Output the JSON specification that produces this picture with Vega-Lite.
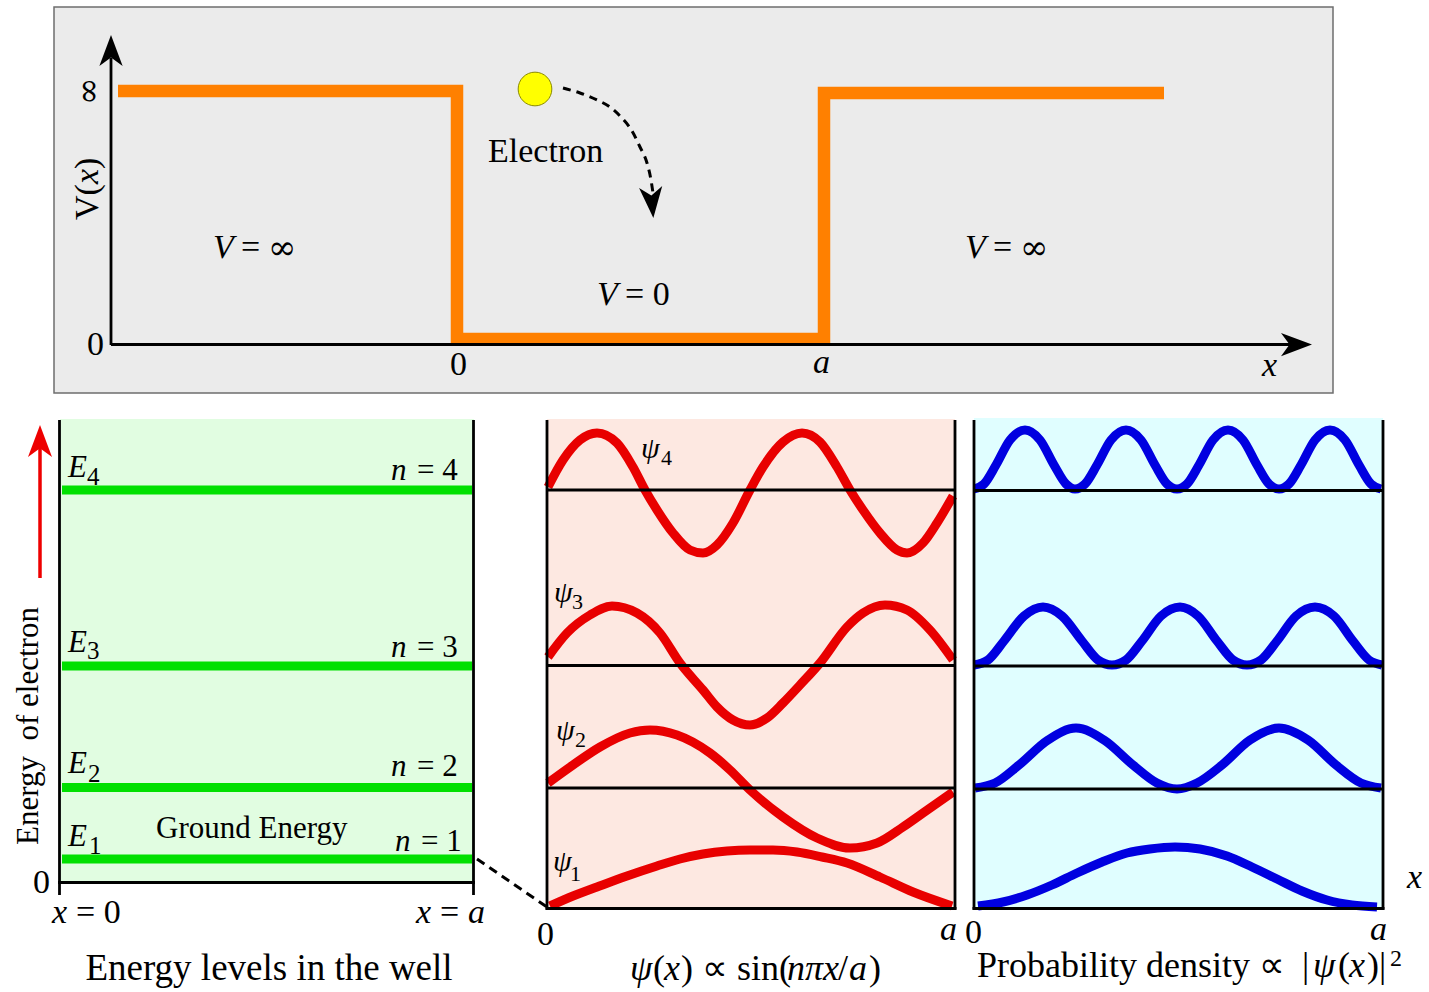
{
  "$schema": "https://vega.github.io/schema/vega-lite/v6.json",
  "width": 1429,
  "height": 992,
  "autosize": {"type": "fit", "contains": "padding"},
  "padding": 0,
  "background": "white",
  "config": {"view": {"stroke": null}},
  "datasets": {
    "panels": [
      {"x": 60, "y": 419, "x2": 474, "y2": 882, "p": "levels"},
      {"x": 547, "y": 419, "x2": 955, "y2": 908, "p": "psi"},
      {"x": 974, "y": 418, "x2": 1383, "y2": 908, "p": "prob"}
    ],
    "frame": [{"x": 54, "y": 7, "x2": 1333, "y2": 393}],
    "well": [
      {"i": 0, "x": 118, "y": 91},
      {"i": 1, "x": 457, "y": 91},
      {"i": 2, "x": 457, "y": 339},
      {"i": 3, "x": 824, "y": 339},
      {"i": 4, "x": 824, "y": 93},
      {"i": 5, "x": 1164, "y": 93}
    ],
    "levels": [
      {"x": 62, "x2": 472, "y": 490, "y2": 490},
      {"x": 62, "x2": 472, "y": 666, "y2": 666},
      {"x": 62, "x2": 472, "y": 787.5, "y2": 787.5},
      {"x": 62, "x2": 472, "y": 859, "y2": 859}
    ],
    "electron": [{"x": 535, "y": 89}],
    "path": [
      {"i": 0, "x": 563, "y": 88},
      {"i": 1, "x": 580, "y": 93},
      {"i": 2, "x": 597, "y": 100},
      {"i": 3, "x": 610, "y": 107},
      {"i": 4, "x": 620, "y": 116},
      {"i": 5, "x": 632, "y": 131},
      {"i": 6, "x": 640, "y": 147},
      {"i": 7, "x": 647, "y": 163},
      {"i": 8, "x": 651, "y": 180},
      {"i": 9, "x": 653, "y": 193}
    ],
    "arrowsBlack": [
      {"x": 111, "y": 50.5, "a": 0},
      {"x": 1296.5, "y": 344.5, "a": 90},
      {"x": 652, "y": 202.5, "a": 175}
    ],
    "arrowsRed": [{"x": 40, "y": 441, "a": 0}],
    "redShaft": [{"x": 40, "y": 578, "x2": 40, "y2": 448}],
    "dash": [{"x": 477, "y": 859, "x2": 547, "y2": 907}],
    "rules": [
      {"x": 111, "y": 345, "x2": 111, "y2": 58},
      {"x": 111, "y": 344.5, "x2": 1290, "y2": 344.5},
      {"x": 59.5, "y": 420, "x2": 59.5, "y2": 895},
      {"x": 473.5, "y": 420, "x2": 473.5, "y2": 895},
      {"x": 58, "y": 882.5, "x2": 475, "y2": 882.5},
      {"x": 547, "y": 420, "x2": 547, "y2": 909.5},
      {"x": 955, "y": 420, "x2": 955, "y2": 909.5},
      {"x": 545.5, "y": 908.5, "x2": 956.5, "y2": 908.5},
      {"x": 547, "y": 490, "x2": 955, "y2": 490},
      {"x": 547, "y": 665.5, "x2": 955, "y2": 665.5},
      {"x": 547, "y": 788, "x2": 955, "y2": 788},
      {"x": 974, "y": 420, "x2": 974, "y2": 909.5},
      {"x": 1383, "y": 420, "x2": 1383, "y2": 909.5},
      {"x": 972.5, "y": 908.5, "x2": 1384.5, "y2": 908.5},
      {"x": 974, "y": 490.5, "x2": 1383, "y2": 490.5},
      {"x": 974, "y": 666, "x2": 1383, "y2": 666},
      {"x": 974, "y": 789, "x2": 1383, "y2": 789}
    ],
    "psi": [
      {"n": 4, "x": 548, "y": 487}, {"n": 4, "x": 563, "y": 460}, {"n": 4, "x": 580, "y": 440}, {"n": 4, "x": 597, "y": 433},
      {"n": 4, "x": 617, "y": 443}, {"n": 4, "x": 633, "y": 467}, {"n": 4, "x": 645, "y": 490}, {"n": 4, "x": 657, "y": 510},
      {"n": 4, "x": 673, "y": 533}, {"n": 4, "x": 690, "y": 550}, {"n": 4, "x": 703, "y": 553}, {"n": 4, "x": 717, "y": 545},
      {"n": 4, "x": 733, "y": 523}, {"n": 4, "x": 750, "y": 490}, {"n": 4, "x": 763, "y": 467}, {"n": 4, "x": 783, "y": 442},
      {"n": 4, "x": 802, "y": 433}, {"n": 4, "x": 820, "y": 442}, {"n": 4, "x": 837, "y": 467}, {"n": 4, "x": 850, "y": 490},
      {"n": 4, "x": 863, "y": 510}, {"n": 4, "x": 880, "y": 533}, {"n": 4, "x": 897, "y": 550}, {"n": 4, "x": 907, "y": 553},
      {"n": 4, "x": 923, "y": 543}, {"n": 4, "x": 937, "y": 523}, {"n": 4, "x": 953, "y": 496},
      {"n": 3, "x": 548, "y": 657}, {"n": 3, "x": 567, "y": 633}, {"n": 3, "x": 590, "y": 615}, {"n": 3, "x": 612, "y": 606},
      {"n": 3, "x": 637, "y": 613}, {"n": 3, "x": 660, "y": 633}, {"n": 3, "x": 680, "y": 663}, {"n": 3, "x": 703, "y": 690},
      {"n": 3, "x": 717, "y": 707}, {"n": 3, "x": 733, "y": 720}, {"n": 3, "x": 750, "y": 725}, {"n": 3, "x": 767, "y": 718},
      {"n": 3, "x": 783, "y": 703}, {"n": 3, "x": 800, "y": 685}, {"n": 3, "x": 820, "y": 663}, {"n": 3, "x": 847, "y": 627},
      {"n": 3, "x": 863, "y": 613}, {"n": 3, "x": 885, "y": 605}, {"n": 3, "x": 907, "y": 610}, {"n": 3, "x": 930, "y": 630},
      {"n": 3, "x": 953, "y": 660},
      {"n": 2, "x": 548, "y": 783}, {"n": 2, "x": 573, "y": 765}, {"n": 2, "x": 600, "y": 747}, {"n": 2, "x": 630, "y": 733},
      {"n": 2, "x": 650, "y": 730}, {"n": 2, "x": 677, "y": 735}, {"n": 2, "x": 710, "y": 753}, {"n": 2, "x": 730, "y": 770},
      {"n": 2, "x": 750, "y": 790}, {"n": 2, "x": 783, "y": 817}, {"n": 2, "x": 817, "y": 838}, {"n": 2, "x": 850, "y": 848},
      {"n": 2, "x": 877, "y": 843}, {"n": 2, "x": 903, "y": 827}, {"n": 2, "x": 923, "y": 813}, {"n": 2, "x": 953, "y": 792},
      {"n": 1, "x": 550, "y": 906}, {"n": 1, "x": 573, "y": 896}, {"n": 1, "x": 597, "y": 887}, {"n": 1, "x": 627, "y": 876},
      {"n": 1, "x": 657, "y": 866}, {"n": 1, "x": 680, "y": 859}, {"n": 1, "x": 703, "y": 854}, {"n": 1, "x": 727, "y": 851},
      {"n": 1, "x": 750, "y": 850}, {"n": 1, "x": 773, "y": 850}, {"n": 1, "x": 797, "y": 852}, {"n": 1, "x": 822, "y": 857},
      {"n": 1, "x": 847, "y": 863}, {"n": 1, "x": 880, "y": 877}, {"n": 1, "x": 913, "y": 892}, {"n": 1, "x": 952, "y": 906}
    ],
    "prob": [
      {"n": 4, "x": 974, "y": 489}, {"n": 4, "x": 984, "y": 484}, {"n": 4, "x": 996, "y": 465}, {"n": 4, "x": 1010, "y": 440},
      {"n": 4, "x": 1025, "y": 430}, {"n": 4, "x": 1040, "y": 440}, {"n": 4, "x": 1054, "y": 465}, {"n": 4, "x": 1066, "y": 484},
      {"n": 4, "x": 1075, "y": 489}, {"n": 4, "x": 1085, "y": 484}, {"n": 4, "x": 1097, "y": 465}, {"n": 4, "x": 1111, "y": 440},
      {"n": 4, "x": 1126, "y": 430}, {"n": 4, "x": 1141, "y": 440}, {"n": 4, "x": 1155, "y": 465}, {"n": 4, "x": 1167, "y": 484},
      {"n": 4, "x": 1177, "y": 489}, {"n": 4, "x": 1187, "y": 484}, {"n": 4, "x": 1199, "y": 465}, {"n": 4, "x": 1213, "y": 440},
      {"n": 4, "x": 1228, "y": 430}, {"n": 4, "x": 1243, "y": 440}, {"n": 4, "x": 1257, "y": 465}, {"n": 4, "x": 1269, "y": 484},
      {"n": 4, "x": 1279, "y": 489}, {"n": 4, "x": 1289, "y": 484}, {"n": 4, "x": 1301, "y": 465}, {"n": 4, "x": 1315, "y": 440},
      {"n": 4, "x": 1330, "y": 430}, {"n": 4, "x": 1345, "y": 440}, {"n": 4, "x": 1359, "y": 465}, {"n": 4, "x": 1371, "y": 484},
      {"n": 4, "x": 1381, "y": 489},
      {"n": 3, "x": 974, "y": 665}, {"n": 3, "x": 988, "y": 660}, {"n": 3, "x": 1004, "y": 641}, {"n": 3, "x": 1024, "y": 616},
      {"n": 3, "x": 1043, "y": 607}, {"n": 3, "x": 1062, "y": 616}, {"n": 3, "x": 1082, "y": 641}, {"n": 3, "x": 1098, "y": 660},
      {"n": 3, "x": 1112, "y": 665}, {"n": 3, "x": 1126, "y": 660}, {"n": 3, "x": 1142, "y": 641}, {"n": 3, "x": 1161, "y": 616},
      {"n": 3, "x": 1180, "y": 607}, {"n": 3, "x": 1198, "y": 616}, {"n": 3, "x": 1217, "y": 641}, {"n": 3, "x": 1233, "y": 660},
      {"n": 3, "x": 1247, "y": 665}, {"n": 3, "x": 1261, "y": 660}, {"n": 3, "x": 1277, "y": 641}, {"n": 3, "x": 1296, "y": 616},
      {"n": 3, "x": 1315, "y": 607}, {"n": 3, "x": 1334, "y": 616}, {"n": 3, "x": 1353, "y": 641}, {"n": 3, "x": 1369, "y": 660},
      {"n": 3, "x": 1382, "y": 665},
      {"n": 2, "x": 975, "y": 788}, {"n": 2, "x": 995, "y": 783}, {"n": 2, "x": 1019, "y": 765}, {"n": 2, "x": 1048, "y": 740},
      {"n": 2, "x": 1076, "y": 728}, {"n": 2, "x": 1104, "y": 740}, {"n": 2, "x": 1133, "y": 765}, {"n": 2, "x": 1157, "y": 783},
      {"n": 2, "x": 1177, "y": 789}, {"n": 2, "x": 1197, "y": 783}, {"n": 2, "x": 1222, "y": 765}, {"n": 2, "x": 1250, "y": 740},
      {"n": 2, "x": 1279, "y": 728}, {"n": 2, "x": 1308, "y": 740}, {"n": 2, "x": 1336, "y": 765}, {"n": 2, "x": 1361, "y": 783},
      {"n": 2, "x": 1381, "y": 788},
      {"n": 1, "x": 978, "y": 906}, {"n": 1, "x": 1003, "y": 902}, {"n": 1, "x": 1027, "y": 895}, {"n": 1, "x": 1052, "y": 885},
      {"n": 1, "x": 1077, "y": 873}, {"n": 1, "x": 1102, "y": 862}, {"n": 1, "x": 1127, "y": 853}, {"n": 1, "x": 1150, "y": 849},
      {"n": 1, "x": 1175, "y": 847}, {"n": 1, "x": 1200, "y": 849}, {"n": 1, "x": 1227, "y": 856}, {"n": 1, "x": 1252, "y": 867},
      {"n": 1, "x": 1277, "y": 879}, {"n": 1, "x": 1302, "y": 891}, {"n": 1, "x": 1327, "y": 900}, {"n": 1, "x": 1352, "y": 905},
      {"n": 1, "x": 1377, "y": 907}
    ],
    "labels": [
      {"g": "A", "t": "Electron", "x": 488, "y": 162},
      {"g": "A", "t": "=", "x": 241, "y": 258},
      {"g": "A", "t": "=", "x": 993, "y": 258},
      {"g": "A", "t": "= 0", "x": 625, "y": 305},
      {"g": "A", "t": "0", "x": 87, "y": 355},
      {"g": "A", "t": "0", "x": 450, "y": 375},
      {"g": "A", "t": "= 0", "x": 76, "y": 923},
      {"g": "A", "t": "=", "x": 440, "y": 923},
      {"g": "A", "t": "0", "x": 33, "y": 893},
      {"g": "A", "t": "0", "x": 537, "y": 945},
      {"g": "A", "t": "0", "x": 965, "y": 943},
      {"g": "Q", "t": "∞", "x": 268, "y": 259},
      {"g": "Q", "t": "∞", "x": 1020, "y": 259},
      {"g": "B", "t": "V", "x": 213, "y": 258},
      {"g": "B", "t": "V", "x": 965, "y": 258},
      {"g": "B", "t": "V", "x": 597, "y": 305},
      {"g": "B", "t": "a", "x": 813, "y": 373},
      {"g": "B", "t": "x", "x": 1262, "y": 376},
      {"g": "B", "t": "x", "x": 52, "y": 923},
      {"g": "B", "t": "x", "x": 416, "y": 923},
      {"g": "B", "t": "a", "x": 468, "y": 923},
      {"g": "B", "t": "a", "x": 940, "y": 940},
      {"g": "B", "t": "a", "x": 1370, "y": 940},
      {"g": "B", "t": "x", "x": 1407, "y": 888},
      {"g": "C", "t": "V(", "x": 98, "y": 220},
      {"g": "C", "t": ")", "x": 98, "y": 169},
      {"g": "R", "t": "∞", "x": 99, "y": 105},
      {"g": "D", "t": "x", "x": 98, "y": 184},
      {"g": "E", "t": "E", "x": 68, "y": 477},
      {"g": "E", "t": "E", "x": 68, "y": 652},
      {"g": "E", "t": "E", "x": 68, "y": 773},
      {"g": "E", "t": "E", "x": 68, "y": 846},
      {"g": "E", "t": "n", "x": 391, "y": 480},
      {"g": "E", "t": "n", "x": 391, "y": 657},
      {"g": "E", "t": "n", "x": 391, "y": 776},
      {"g": "E", "t": "n", "x": 395, "y": 851},
      {"g": "F", "t": "= 4", "x": 417, "y": 480},
      {"g": "F", "t": "= 3", "x": 417, "y": 657},
      {"g": "F", "t": "= 2", "x": 417, "y": 776},
      {"g": "F", "t": "= 1", "x": 421, "y": 851},
      {"g": "F", "t": "Ground Energy", "x": 156, "y": 838},
      {"g": "G", "t": "4", "x": 87, "y": 485},
      {"g": "G", "t": "3", "x": 87, "y": 659},
      {"g": "G", "t": "2", "x": 88, "y": 782},
      {"g": "G", "t": "1", "x": 89, "y": 854},
      {"g": "H", "t": "ψ", "x": 641, "y": 458},
      {"g": "H", "t": "ψ", "x": 554, "y": 602},
      {"g": "H", "t": "ψ", "x": 556, "y": 740},
      {"g": "H", "t": "ψ", "x": 553, "y": 871},
      {"g": "I", "t": "4", "x": 661, "y": 465},
      {"g": "I", "t": "3", "x": 572, "y": 609},
      {"g": "I", "t": "2", "x": 575, "y": 747},
      {"g": "I", "t": "1", "x": 570, "y": 881},
      {"g": "J", "t": "Energy levels in the well", "x": 269, "y": 980},
      {"g": "K", "t": "(", "x": 653, "y": 980},
      {"g": "K", "t": ") ∝ sin(", "x": 681, "y": 980},
      {"g": "K", "t": "/", "x": 838, "y": 980},
      {"g": "K", "t": ")", "x": 869, "y": 980},
      {"g": "K", "t": "Probability density ∝", "x": 977, "y": 977},
      {"g": "K", "t": "|", "x": 1302, "y": 977},
      {"g": "K", "t": "(", "x": 1338, "y": 977},
      {"g": "K", "t": ")|", "x": 1367, "y": 977},
      {"g": "L", "t": "ψ", "x": 630, "y": 980},
      {"g": "L", "t": "x", "x": 664, "y": 980},
      {"g": "L", "t": "nπx", "x": 787, "y": 980},
      {"g": "L", "t": "a", "x": 849, "y": 980},
      {"g": "L", "t": "ψ", "x": 1313, "y": 977},
      {"g": "L", "t": "x", "x": 1349, "y": 977},
      {"g": "M", "t": "Energy\u00a0 of electron", "x": 38, "y": 726},
      {"g": "N", "t": "2", "x": 1390, "y": 966}
    ]
  },
  "encoding": {
    "x": {"field": "x", "type": "quantitative", "scale": {"domain": [0, 1429], "nice": false, "zero": false}, "axis": null},
    "y": {"field": "y", "type": "quantitative", "scale": {"domain": [0, 992], "nice": false, "zero": false, "reverse": true}, "axis": null}
  },
  "layer": [
    {
      "data": {"name": "frame"},
      "mark": {"type": "rect", "fill": "#ebebeb", "stroke": "#6e6e6e", "strokeWidth": 1.5},
      "encoding": {"x2": {"field": "x2"}, "y2": {"field": "y2"}}
    },
    {
      "data": {"name": "panels"},
      "mark": {"type": "rect"},
      "encoding": {
        "x2": {"field": "x2"}, "y2": {"field": "y2"},
        "color": {"field": "p", "type": "nominal", "scale": {"domain": ["levels", "psi", "prob"], "range": ["#e1fde1", "#fde8e1", "#e0feff"]}, "legend": null}
      }
    },
    {
      "data": {"name": "well"},
      "mark": {"type": "line", "color": "#ff8000", "strokeWidth": 12.5, "strokeJoin": "miter", "strokeCap": "butt"},
      "encoding": {"order": {"field": "i", "type": "quantitative"}}
    },
    {
      "data": {"name": "levels"},
      "mark": {"type": "rule", "color": "#00e000", "strokeWidth": 9},
      "encoding": {"x2": {"field": "x2"}, "y2": {"field": "y2"}}
    },
    {
      "data": {"name": "electron"},
      "mark": {"type": "point", "shape": "circle", "filled": true, "size": 1134, "fill": "#ffff00", "stroke": "#8a8a00", "strokeWidth": 1, "opacity": 1}
    },
    {
      "data": {"name": "path"},
      "mark": {"type": "line", "color": "black", "strokeWidth": 3, "strokeDash": [8, 6], "interpolate": "monotone"},
      "encoding": {"order": {"field": "i", "type": "quantitative"}}
    },
    {
      "data": {"name": "dash"},
      "mark": {"type": "rule", "color": "black", "strokeWidth": 3, "strokeDash": [9, 6]},
      "encoding": {"x2": {"field": "x2"}, "y2": {"field": "y2"}}
    },
    {
      "data": {"name": "redShaft"},
      "mark": {"type": "rule", "color": "#ee0000", "strokeWidth": 3.5},
      "encoding": {"x2": {"field": "x2"}, "y2": {"field": "y2"}}
    },
    {
      "data": {"name": "psi"},
      "mark": {"type": "line", "color": "#e80000", "strokeWidth": 9, "interpolate": "monotone"},
      "encoding": {"detail": {"field": "n", "type": "nominal"}}
    },
    {
      "data": {"name": "prob"},
      "mark": {"type": "line", "color": "#0000e0", "strokeWidth": 9, "interpolate": "monotone"},
      "encoding": {"detail": {"field": "n", "type": "nominal"}}
    },
    {
      "data": {"name": "rules"},
      "mark": {"type": "rule", "color": "black", "strokeWidth": 2.8},
      "encoding": {"x2": {"field": "x2"}, "y2": {"field": "y2"}}
    },
    {
      "data": {"name": "arrowsBlack"},
      "mark": {"type": "point", "shape": "M0,-1L0.75,1L0,0.45L-0.75,1Z", "filled": true, "size": 961, "color": "black", "opacity": 1},
      "encoding": {"angle": {"field": "a", "type": "quantitative", "scale": null}}
    },
    {
      "data": {"name": "arrowsRed"},
      "mark": {"type": "point", "shape": "M0,-1L0.75,1L0,0.45L-0.75,1Z", "filled": true, "size": 1024, "color": "#ee0000", "opacity": 1},
      "encoding": {"angle": {"field": "a", "type": "quantitative", "scale": null}}
    },
    {
      "data": {"name": "labels"},
      "transform": [{"filter": "datum.g === 'A'"}],
      "mark": {"type": "text", "font": "Liberation Serif", "fontSize": 34, "align": "left", "baseline": "alphabetic", "color": "black"},
      "encoding": {"text": {"field": "t"}}
    },
    {
      "data": {"name": "labels"},
      "transform": [{"filter": "datum.g === 'Q'"}],
      "mark": {"type": "text", "font": "DejaVu Serif", "fontSize": 34, "align": "left", "baseline": "alphabetic", "color": "black"},
      "encoding": {"text": {"field": "t"}}
    },
    {
      "data": {"name": "labels"},
      "transform": [{"filter": "datum.g === 'R'"}],
      "mark": {"type": "text", "font": "DejaVu Serif", "fontSize": 33, "angle": 270, "align": "left", "baseline": "alphabetic", "color": "black"},
      "encoding": {"text": {"field": "t"}}
    },
    {
      "data": {"name": "labels"},
      "transform": [{"filter": "datum.g === 'B'"}],
      "mark": {"type": "text", "font": "Liberation Serif", "fontSize": 34, "fontStyle": "italic", "align": "left", "baseline": "alphabetic", "color": "black"},
      "encoding": {"text": {"field": "t"}}
    },
    {
      "data": {"name": "labels"},
      "transform": [{"filter": "datum.g === 'C'"}],
      "mark": {"type": "text", "font": "Liberation Serif", "fontSize": 34, "angle": 270, "align": "left", "baseline": "alphabetic", "color": "black"},
      "encoding": {"text": {"field": "t"}}
    },
    {
      "data": {"name": "labels"},
      "transform": [{"filter": "datum.g === 'D'"}],
      "mark": {"type": "text", "font": "Liberation Serif", "fontSize": 34, "fontStyle": "italic", "angle": 270, "align": "left", "baseline": "alphabetic", "color": "black"},
      "encoding": {"text": {"field": "t"}}
    },
    {
      "data": {"name": "labels"},
      "transform": [{"filter": "datum.g === 'E'"}],
      "mark": {"type": "text", "font": "Liberation Serif", "fontSize": 31, "fontStyle": "italic", "align": "left", "baseline": "alphabetic", "color": "black"},
      "encoding": {"text": {"field": "t"}}
    },
    {
      "data": {"name": "labels"},
      "transform": [{"filter": "datum.g === 'F'"}],
      "mark": {"type": "text", "font": "Liberation Serif", "fontSize": 31, "align": "left", "baseline": "alphabetic", "color": "black"},
      "encoding": {"text": {"field": "t"}}
    },
    {
      "data": {"name": "labels"},
      "transform": [{"filter": "datum.g === 'G'"}],
      "mark": {"type": "text", "font": "Liberation Serif", "fontSize": 25, "align": "left", "baseline": "alphabetic", "color": "black"},
      "encoding": {"text": {"field": "t"}}
    },
    {
      "data": {"name": "labels"},
      "transform": [{"filter": "datum.g === 'H'"}],
      "mark": {"type": "text", "font": "Liberation Serif", "fontSize": 30, "fontStyle": "italic", "align": "left", "baseline": "alphabetic", "color": "black"},
      "encoding": {"text": {"field": "t"}}
    },
    {
      "data": {"name": "labels"},
      "transform": [{"filter": "datum.g === 'I'"}],
      "mark": {"type": "text", "font": "Liberation Serif", "fontSize": 22, "align": "left", "baseline": "alphabetic", "color": "black"},
      "encoding": {"text": {"field": "t"}}
    },
    {
      "data": {"name": "labels"},
      "transform": [{"filter": "datum.g === 'J'"}],
      "mark": {"type": "text", "font": "Liberation Serif", "fontSize": 37, "align": "center", "baseline": "alphabetic", "color": "black"},
      "encoding": {"text": {"field": "t"}}
    },
    {
      "data": {"name": "labels"},
      "transform": [{"filter": "datum.g === 'K'"}],
      "mark": {"type": "text", "font": "Liberation Serif", "fontSize": 36, "align": "left", "baseline": "alphabetic", "color": "black"},
      "encoding": {"text": {"field": "t"}}
    },
    {
      "data": {"name": "labels"},
      "transform": [{"filter": "datum.g === 'L'"}],
      "mark": {"type": "text", "font": "Liberation Serif", "fontSize": 36, "fontStyle": "italic", "align": "left", "baseline": "alphabetic", "color": "black"},
      "encoding": {"text": {"field": "t"}}
    },
    {
      "data": {"name": "labels"},
      "transform": [{"filter": "datum.g === 'M'"}],
      "mark": {"type": "text", "font": "Liberation Serif", "fontSize": 31, "angle": 270, "align": "center", "baseline": "alphabetic", "color": "black"},
      "encoding": {"text": {"field": "t"}}
    },
    {
      "data": {"name": "labels"},
      "transform": [{"filter": "datum.g === 'N'"}],
      "mark": {"type": "text", "font": "Liberation Serif", "fontSize": 24, "align": "left", "baseline": "alphabetic", "color": "black"},
      "encoding": {"text": {"field": "t"}}
    }
  ]
}
